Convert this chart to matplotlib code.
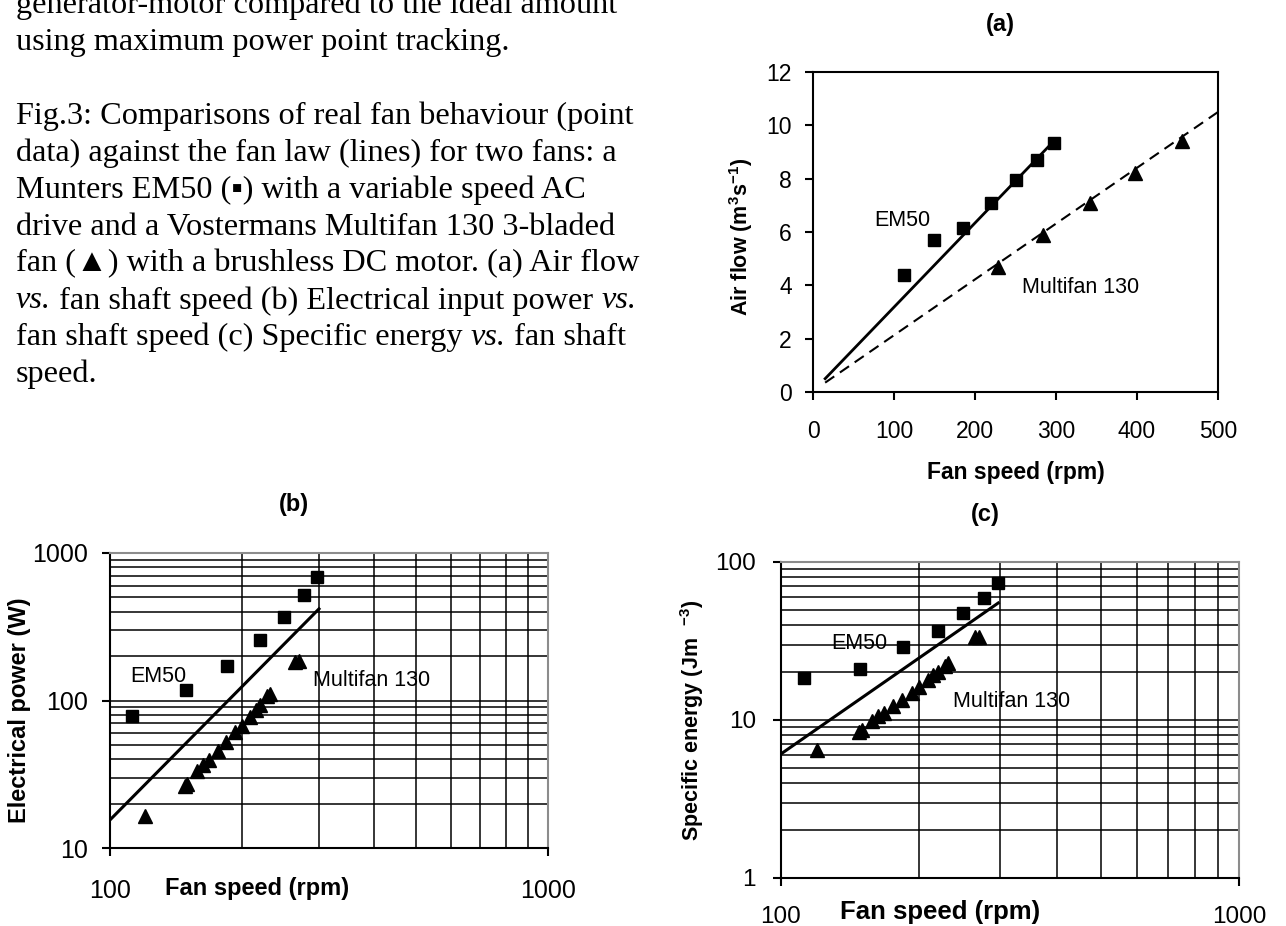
import matplotlib
matplotlib.use('Agg')
import matplotlib.pyplot as plt
from matplotlib.ticker import FixedLocator, NullFormatter
from matplotlib.font_manager import FontProperties

plt.rcParams['font.family'] = ['Liberation Sans', 'DejaVu Sans']
plt.rcParams['mathtext.fontset'] = 'custom'
plt.rcParams['mathtext.rm'] = 'Liberation Sans'
plt.rcParams['mathtext.bf'] = 'Liberation Sans:bold'

# ---------------- data ----------------
em50_rpm = [112, 149, 185, 220, 250, 277, 297]
em50_flow = [4.4, 5.7, 6.15, 7.1, 7.95, 8.7, 9.35]
em50_power = [79, 118, 172, 258, 366, 516, 688]
em50_energy = [18.5, 20.9, 28.8, 36.6, 47.3, 59.5, 73.3]

mf_rpm_a = [228, 284, 342, 398, 456]
mf_flow_a = [4.7, 5.9, 7.1, 8.2, 9.4]

mf_rpm = [120, 148, 150, 158, 163, 168, 176, 184, 193, 200, 209, 215, 220, 228, 232, 265, 270]
mf_power = [16.6, 26.2, 27.0, 33.1, 36.7, 39.3, 45.2, 52.3, 60.8, 67.5, 77.3, 85.8, 92.7,
            106.7, 111.3, 182.4, 186.2]
mf_energy = [6.5, 8.45, 8.65, 9.9, 10.65, 11.1, 12.3, 13.4, 14.9, 16.25, 17.9, 19.3, 20.2,
             22.1, 22.8, 33.4, 33.7]

# fan-law lines
law_a_em50_rpm = [15, 297]
law_a_em50_flow = [0.5, 9.4]
law_a_mf_rpm = [15, 500]
law_a_mf_flow = [0.35, 10.5]
law_b_rpm = [100, 300]
law_b_power = [15.5, 418]
law_c_rpm = [100, 298]
law_c_energy = [6.1, 55]

a_xticks = [0, 100, 200, 300, 400, 500]
a_yticks = [0, 2, 4, 6, 8, 10, 12]

caption_lines = [
    [("generator-motor compared to the ideal amount", 'normal')],
    [("using maximum power point tracking.", 'normal')],
    [("Fig.3: Comparisons of real fan behaviour (point", 'normal')],
    [("data) against the fan law (lines) for two fans: a", 'normal')],
    [("Munters EM50 (\u25aa) with a variable speed AC", 'normal')],
    [("drive and a Vostermans Multifan 130 3-bladed", 'normal')],
    [("fan (\u25b2) with a brushless DC motor. (a) Air flow", 'normal')],
    [("vs.", 'italic'), (" fan shaft speed (b) Electrical input power ", 'normal'), ("vs.", 'italic')],
    [("fan shaft speed (c) Specific energy ", 'normal'), ("vs.", 'italic'), (" fan shaft", 'normal')],
    [("speed.", 'normal')],
]
caption_baselines = [13.3, 50.2, 124, 160.9, 197.8, 234.7, 271.6, 308.5, 345.4, 382.3]

# ---------------- figure ----------------
W, H = 1286, 926
fig = plt.figure(figsize=(W / 100, H / 100), dpi=100)
fig.patch.set_facecolor('white')


def rect(l, t, r, b):
    return [l / W, 1 - b / H, (r - l) / W, (b - t) / H]


def px2pt(p):
    return p * 72 / 100


axA = fig.add_axes(rect(813, 72, 1218, 392))
axB = fig.add_axes(rect(110, 553, 548, 848))
axC = fig.add_axes(rect(781, 562, 1239, 878))

# ---- panel (a) ----
axA.plot(law_a_em50_rpm, law_a_em50_flow, '-', color='k', lw=2.0, zorder=2)
axA.plot(law_a_mf_rpm, law_a_mf_flow, color='k', lw=1.5, dashes=(5.3, 3.3), zorder=2)
axA.plot(em50_rpm, em50_flow, 's', color='k', ms=8.6, zorder=3)
axA.plot(mf_rpm_a, mf_flow_a, '^', color='k', ms=10, zorder=3)
axA.set_xlim(0, 500)
axA.set_ylim(0, 12)
axA.set_xticks(a_xticks)
axA.set_yticks(a_yticks)
for sp in axA.spines.values():
    sp.set_linewidth(1.5)
    sp.set_color('k')
axA.tick_params(direction='out', length=px2pt(8), width=1.5, labelsize=16.5)
axA.tick_params(axis='x', pad=px2pt(20))
axA.tick_params(axis='y', pad=px2pt(13))
axA.set_xlabel('Fan speed (rpm)', fontsize=16.5, fontweight='bold', va='center')
axA.xaxis.set_label_coords((1015.7 - 813) / 405, (392 - 473) / 320)
axA.set_ylabel(r'Air flow (m$^{\mathbf{3}}$s$^{\mathbf{-1}}$)', fontsize=15.5,
               fontweight='bold', va='center')
axA.yaxis.set_label_coords((741 - 813) / 405, (392 - 237) / 320)
axA.text(110.5, 6.45, 'EM50', fontsize=15.5, ha='center', va='center')
axA.text(257.7, 3.93, 'Multifan 130', fontsize=15.5, ha='left', va='center')
fig.text(1000 / W, 1 - 25 / H, '(a)', fontsize=17, fontweight='bold', ha='center', va='center')


def style_log(ax, ymajor, yminor, labelsize, xpad, ypad):
    ax.set_xscale('log')
    ax.set_yscale('log')
    ax.set_xlim(100, 1000)
    ax.set_ylim(ymajor[0], ymajor[-1])
    ax.xaxis.set_major_locator(FixedLocator([100, 1000]))
    ax.set_xticklabels(['100', '1000'])
    ax.xaxis.set_minor_locator(FixedLocator([200, 300, 400, 500, 600, 700, 800, 900]))
    ax.xaxis.set_minor_formatter(NullFormatter())
    ax.yaxis.set_major_locator(FixedLocator(ymajor))
    ax.set_yticklabels([str(v) for v in ymajor])
    ax.yaxis.set_minor_locator(FixedLocator(yminor))
    ax.yaxis.set_minor_formatter(NullFormatter())
    ax.set_axisbelow(True)
    ax.grid(True, which='both', color='k', lw=1.1)
    ax.tick_params(which='minor', length=0)
    ax.tick_params(which='major', direction='out', length=px2pt(8), width=1.5,
                   labelsize=labelsize)
    ax.tick_params(axis='x', which='major', pad=px2pt(xpad))
    ax.tick_params(axis='y', which='major', pad=px2pt(ypad))
    for s in ['left', 'bottom']:
        ax.spines[s].set_color('k')
        ax.spines[s].set_linewidth(1.5)
    for s in ['top', 'right']:
        ax.spines[s].set_color('#8c8c8c')
        ax.spines[s].set_linewidth(1.5)


# ---- panel (b) ----
style_log(axB, [10, 100, 1000], [20, 30, 40, 50, 60, 70, 80, 90, 200, 300, 400, 500, 600, 700, 800, 900],
          18, 23, 14)
axB.plot(law_b_rpm, law_b_power, '-', color='k', lw=2.2, zorder=2)
axB.plot(em50_rpm, em50_power, 's', color='k', ms=8.2, zorder=3)
axB.plot(mf_rpm, mf_power, '^', color='k', ms=10, zorder=3)
axB.set_xlabel('Fan speed (rpm)', fontsize=17, fontweight='bold', va='center')
axB.xaxis.set_label_coords((257 - 110) / 438, (848 - 888) / 295)
axB.set_ylabel('Electrical power (W)', fontsize=17, fontweight='bold', va='center')
axB.yaxis.set_label_coords((20 - 110) / 438, (848 - 710) / 295)
axB.text(111.5, 145, 'EM50', fontsize=15.5, ha='left', va='center')
axB.text(290, 137.7, 'Multifan 130', fontsize=15.5, ha='left', va='center')
fig.text(294 / W, 1 - 505 / H, '(b)', fontsize=17, fontweight='bold', ha='center', va='center')

# ---- panel (c) ----
style_log(axC, [1, 10, 100], [2, 3, 4, 5, 6, 7, 8, 9, 20, 30, 40, 50, 60, 70, 80, 90],
          17.5, 20, 17)
axC.plot(law_c_rpm, law_c_energy, '-', color='k', lw=2.2, zorder=2)
axC.plot(em50_rpm, em50_energy, 's', color='k', ms=8.2, zorder=3)
axC.plot(mf_rpm, mf_energy, '^', color='k', ms=10, zorder=3)
axC.set_xlabel('Fan speed (rpm)', fontsize=18.5, fontweight='bold', va='center')
axC.xaxis.set_label_coords((940 - 781) / 458, (878 - 912) / 316)
axC.set_ylabel(r'Specific energy (Jm  $^{\mathbf{-3}}$)', fontsize=15.5, fontweight='bold',
               va='center')
axC.yaxis.set_label_coords((692 - 781) / 458, (878 - 720) / 316)
axC.text(129, 30.6, 'EM50', fontsize=15.5, ha='left', va='center')
axC.text(237, 13.06, 'Multifan 130', fontsize=15.5, ha='left', va='center')
fig.text(985 / W, 1 - 515 / H, '(c)', fontsize=17, fontweight='bold', ha='center', va='center')

# ---- caption text ----
serif = ['Liberation Serif', 'DejaVu Sans']
cap_size = 23.2
renderer = fig.canvas.get_renderer()


def text_width(s, st):
    fp = FontProperties(family=serif, style=st, size=cap_size)
    w1, _, _ = renderer.get_text_width_height_descent('|' + s + '|', fp, ismath=False)
    w2, _, _ = renderer.get_text_width_height_descent('||', fp, ismath=False)
    return w1 - w2


for runs, yb in zip(caption_lines, caption_baselines):
    x = 16
    for s, st in runs:
        fig.text(x / W, 1 - yb / H, s, fontsize=cap_size, family=serif, style=st,
                 va='baseline', ha='left', color='k')
        x += text_width(s, st)

fig.savefig('out.png', dpi=100, facecolor='white')
